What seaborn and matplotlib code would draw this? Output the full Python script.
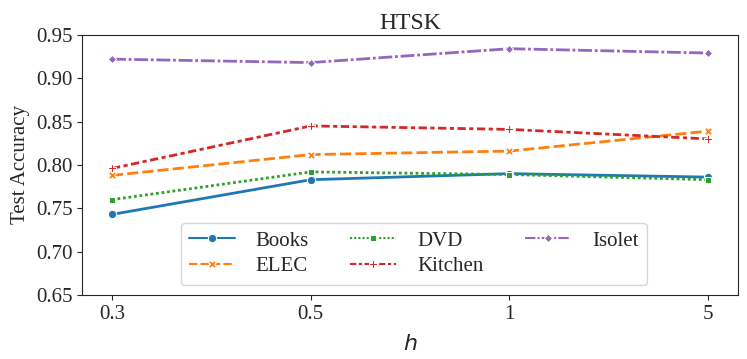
import pandas as pd
import matplotlib.pyplot as plt
import seaborn as sns

# values
h_values = ["0.3", "0.5", "1", "5"]
books = [0.743, 0.783, 0.790, 0.786]
elec = [0.788, 0.812, 0.816, 0.839]
dvd = [0.760, 0.792, 0.789, 0.783]
kitchen = [0.796, 0.845, 0.841, 0.830]
isolet = [0.922, 0.918, 0.934, 0.929]
datasets = ["Books", "ELEC", "DVD", "Kitchen", "Isolet"]

rows = []
for name, vals in zip(datasets, [books, elec, dvd, kitchen, isolet]):
    for h, v in zip(h_values, vals):
        rows.append({"h": h, "acc": v, "dataset": name})
df = pd.DataFrame(rows)

sns.set_style("ticks")
plt.rcParams["font.family"] = ["Liberation Serif", "DejaVu Serif"]
plt.rcParams["mathtext.fontset"] = "dejavusans"

fig, ax = plt.subplots(figsize=(7.47, 3.59), dpi=100)
sns.lineplot(data=df, x="h", y="acc", hue="dataset", style="dataset",
             hue_order=datasets, style_order=datasets,
             markers=True, dashes=True, linewidth=2, markersize=6, ax=ax)

ax.set_ylim(0.65, 0.95)
ax.set_yticks([0.65, 0.70, 0.75, 0.80, 0.85, 0.90, 0.95])
ax.set_xlim(-0.15, 3.15)
ax.set_title("HTSK", fontsize=17, pad=4)
ax.set_xlabel("$h$", fontsize=16, labelpad=8)
ax.set_ylabel("Test Accuracy", fontsize=15)
ax.tick_params(labelsize=15)

leg = ax.legend(ncol=3, fontsize=15, loc="lower left", bbox_to_anchor=(0.15, 0.04),
                columnspacing=2.0, handlelength=2.2, borderaxespad=0,
                labelspacing=0.3, handletextpad=1.0)
for line in leg.get_lines():
    line.set_linewidth(1.5)

fig.subplots_adjust(left=0.11, right=0.988, top=0.903, bottom=0.178)
plt.savefig("out.png", dpi=100)
plt.close()
